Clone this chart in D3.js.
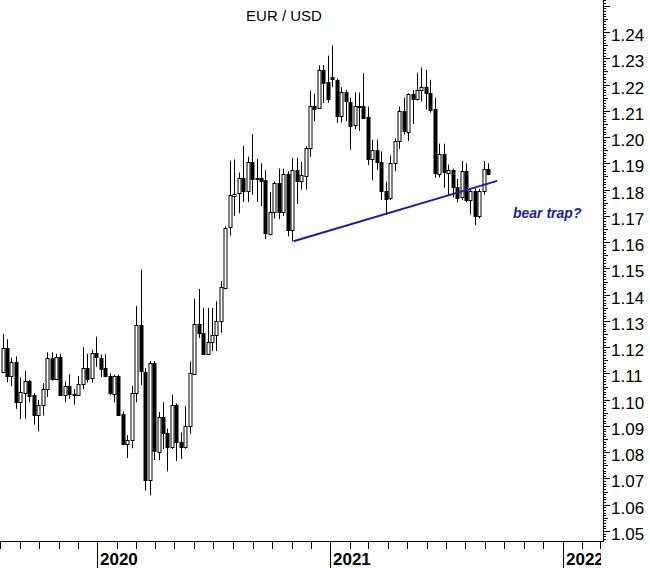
<!DOCTYPE html>
<html><head><meta charset="utf-8">
<script src="https://cdn.jsdelivr.net/npm/d3@7"></script>
<style>html,body{margin:0;padding:0;background:#fff;}svg{display:block;}</style>
</head><body>
<script>
// ---- data (weekly EUR/USD candles, week start dates) ----
const weeks = ["2019-08-05","2019-08-12","2019-08-19","2019-08-26","2019-09-02","2019-09-09","2019-09-16","2019-09-23","2019-09-30","2019-10-07","2019-10-14","2019-10-21","2019-10-28","2019-11-04","2019-11-11","2019-11-18","2019-11-25","2019-12-02","2019-12-09","2019-12-16","2019-12-23","2019-12-30",
"2020-01-06","2020-01-13","2020-01-20","2020-01-27","2020-02-03","2020-02-10","2020-02-17","2020-02-24","2020-03-02","2020-03-09","2020-03-16","2020-03-23","2020-03-30","2020-04-06","2020-04-13","2020-04-20","2020-04-27","2020-05-04","2020-05-11","2020-05-18","2020-05-25","2020-06-01","2020-06-08","2020-06-15","2020-06-22","2020-06-29","2020-07-06","2020-07-13","2020-07-20","2020-07-27","2020-08-03","2020-08-10","2020-08-17","2020-08-24","2020-08-31","2020-09-07","2020-09-14","2020-09-21","2020-09-28","2020-10-05","2020-10-12","2020-10-19","2020-10-26","2020-11-02","2020-11-09","2020-11-16","2020-11-23","2020-11-30","2020-12-07","2020-12-14","2020-12-21","2020-12-28",
"2021-01-04","2021-01-11","2021-01-18","2021-01-25","2021-02-01","2021-02-08","2021-02-15","2021-02-22","2021-03-01","2021-03-08","2021-03-15","2021-03-22","2021-03-29","2021-04-05","2021-04-12","2021-04-19","2021-04-26","2021-05-03","2021-05-10","2021-05-17","2021-05-24","2021-05-31","2021-06-07","2021-06-14","2021-06-21","2021-06-28","2021-07-05","2021-07-12","2021-07-19","2021-07-26","2021-08-02","2021-08-09","2021-08-16","2021-08-23","2021-08-30","2021-09-06"];
const opens = [1.1108,1.1198,1.1090,1.1143,1.0990,1.1028,1.1073,1.1017,1.0940,1.0979,1.1041,1.1160,1.1081,1.1164,1.1019,1.1052,1.1022,1.1017,1.1060,1.1122,1.1081,1.1177,
1.1160,1.1120,1.1090,1.1025,1.1092,1.0945,1.0830,1.0846,1.1026,1.1284,1.1107,1.0694,1.1139,1.0803,1.0935,1.0875,1.0820,1.0980,1.0840,1.0820,1.0900,1.1100,1.1290,1.1255,1.1175,1.1220,1.1245,1.1300,1.1428,1.1655,1.1778,1.1785,1.1843,1.1795,1.1905,1.1840,1.1845,1.1835,1.1632,1.1715,1.1825,1.1716,1.1860,1.1646,1.1875,1.1833,1.1855,1.1960,1.2120,1.2110,1.2255,1.2210,
1.2230,1.2217,1.2080,1.2170,1.2135,1.2045,1.2118,1.2120,1.2075,1.1915,1.1950,1.1905,1.1795,1.1765,1.1900,1.1985,1.2098,1.2022,1.2165,1.2145,1.2180,1.2190,1.2168,1.2105,1.1860,1.1935,1.1865,1.1875,1.1810,1.1770,1.1870,1.1760,1.1795,1.1698,1.1795,1.1880];
const highs = [1.1250,1.1230,1.1160,1.1165,1.1085,1.1110,1.1075,1.1025,1.0999,1.1063,1.1180,1.1180,1.1175,1.1175,1.1070,1.1097,1.1040,1.1090,1.1200,1.1175,1.1190,1.1240,
1.1172,1.1173,1.1100,1.1095,1.1095,1.0955,1.0865,1.1053,1.1356,1.1495,1.1120,1.1147,1.1147,1.0953,1.0990,1.0890,1.1019,1.0985,1.0875,1.0975,1.1145,1.1385,1.1422,1.1350,1.1350,1.1350,1.1375,1.1452,1.1660,1.1910,1.1915,1.1865,1.1966,1.1925,1.2011,1.1917,1.1900,1.1873,1.1790,1.1830,1.1880,1.1880,1.1870,1.1920,1.1920,1.1905,1.1965,1.2177,1.2165,1.2273,1.2274,1.2310,
1.2349,1.2223,1.2190,1.2180,1.2150,1.2170,1.2169,1.2243,1.2115,1.1990,1.1990,1.1945,1.1830,1.1930,1.1995,1.2116,1.2150,1.2167,1.2180,1.2245,1.2265,1.2255,1.2218,1.2150,1.1975,1.1975,1.1895,1.1880,1.1840,1.1909,1.1900,1.1805,1.1805,1.1802,1.1909,1.1900];
const lows = [1.1106,1.1066,1.1052,1.0965,1.0926,1.0927,1.0990,1.0905,1.0879,1.0940,1.1010,1.1072,1.1075,1.1015,1.0990,1.1003,1.0981,1.1015,1.1040,1.1065,1.1065,1.1125,
1.1085,1.1085,1.1018,1.0990,1.0940,1.0827,1.0778,1.0815,1.0990,1.1055,1.0654,1.0636,1.0770,1.0770,1.0812,1.0727,1.0812,1.0766,1.0775,1.0813,1.0870,1.1095,1.1235,1.1170,1.1170,1.1185,1.1185,1.1255,1.1420,1.1625,1.1700,1.1710,1.1753,1.1753,1.1780,1.1753,1.1737,1.1612,1.1630,1.1690,1.1687,1.1700,1.1622,1.1603,1.1745,1.1800,1.1800,1.1925,1.2060,1.2110,1.2130,1.2130,
1.2190,1.2054,1.2055,1.2060,1.1952,1.2030,1.2023,1.2070,1.1893,1.1835,1.1875,1.1760,1.1704,1.1760,1.1870,1.1955,1.2010,1.1985,1.2050,1.2140,1.2135,1.2105,1.2093,1.1845,1.1846,1.1807,1.1780,1.1770,1.1752,1.1760,1.1752,1.1705,1.1664,1.1690,1.1780,1.1855];
const closes = [1.1198,1.1090,1.1143,1.0990,1.1028,1.1073,1.1017,1.0940,1.0979,1.1041,1.1160,1.1081,1.1164,1.1019,1.1052,1.1022,1.1017,1.1060,1.1122,1.1081,1.1177,1.1160,
1.1120,1.1090,1.1025,1.1092,1.0945,1.0830,1.0846,1.1026,1.1284,1.1107,1.0694,1.1139,1.0803,1.0935,1.0875,1.0820,1.0980,1.0840,1.0820,1.0900,1.1100,1.1290,1.1255,1.1175,1.1220,1.1245,1.1300,1.1428,1.1655,1.1778,1.1785,1.1843,1.1795,1.1905,1.1840,1.1845,1.1835,1.1632,1.1715,1.1825,1.1716,1.1860,1.1646,1.1875,1.1833,1.1855,1.1960,1.2120,1.2110,1.2255,1.2206,1.2145,
1.2224,1.2080,1.2170,1.2135,1.2045,1.2118,1.2120,1.2075,1.1915,1.1950,1.1905,1.1795,1.1765,1.1900,1.1985,1.2098,1.2022,1.2165,1.2145,1.2180,1.2190,1.2168,1.2105,1.1860,1.1935,1.1865,1.1875,1.1810,1.1770,1.1870,1.1760,1.1795,1.1698,1.1795,1.1880,1.1862];

const yTicks = [1.05,1.06,1.07,1.08,1.09,1.10,1.11,1.12,1.13,1.14,1.15,1.16,1.17,1.18,1.19,1.20,1.21,1.22,1.23,1.24];
const trendDates = ["2020-11-04","2021-09-20"];
const trendValues = [1.1603, 1.1833];
const title = "EUR / USD";
const note = "bear trap?";

// ---- layout ----
const W = 650, H = 568;
const axisX = 603, axisY = 541;
const parse = d3.utcParse("%Y-%m-%d");

const x = d3.scaleUtc()
  .domain([parse("2020-03-09"), parse("2021-01-04")])
  .range([140.7, 332.3]);
const y = d3.scaleLinear().domain([1.05, 1.24]).range([531, 32]);

const svg = d3.select("body").append("svg").attr("width", W).attr("height", H)
  .style("font-family", "'Liberation Sans', Arial, sans-serif");

const defs = svg.append("defs");
defs.append("clipPath").attr("id","plot")
  .append("rect").attr("x",0).attr("y",0).attr("width",axisX).attr("height",H);
defs.append("clipPath").attr("id","xlab")
  .append("rect").attr("x",0).attr("y",0).attr("width",axisX-2).attr("height",H);

const candles = weeks.map((w,i)=>({d:parse(w),o:opens[i],h:highs[i],l:lows[i],c:closes[i]}));

const g = svg.append("g").attr("clip-path","url(#plot)");
const cg = g.selectAll("g.c").data(candles).join("g").attr("class","c");
const cx = d => Math.round(x(d.d)) + 0.5;
cg.append("line")
  .attr("x1", cx).attr("x2", cx)
  .attr("y1", d => y(d.h)).attr("y2", d => y(d.l))
  .attr("stroke", "#000").attr("stroke-width", 1);
cg.append("rect")
  .attr("x", d => cx(d) - 1.5)
  .attr("width", 3)
  .attr("y", d => Math.round(y(Math.max(d.o,d.c))) + 0.5)
  .attr("height", d => Math.max(1, Math.round(Math.abs(y(d.o)-y(d.c)))))
  .attr("fill", d => d.c >= d.o ? "#fff" : "#000")
  .attr("stroke", "#000").attr("stroke-width", 1);

// trend line
g.append("line")
  .attr("x1", x(parse(trendDates[0]))).attr("y1", y(trendValues[0]))
  .attr("x2", x(parse(trendDates[1]))).attr("y2", y(trendValues[1]))
  .attr("stroke", "#1f1f9e").attr("stroke-width", 2);

// x axis
const xg = svg.append("g").attr("clip-path","url(#plot)");
xg.append("line").attr("x1",0).attr("x2",axisX).attr("y1",axisY+0.5).attr("y2",axisY+0.5).attr("stroke","#000");
const months = d3.utcMonth.range(x.invert(0), x.invert(axisX+2));
xg.selectAll("line.mt").data(months).join("line").attr("class","mt")
  .attr("x1", d=>Math.round(x(d))+0.5).attr("x2", d=>Math.round(x(d))+0.5)
  .attr("y1", axisY).attr("y2", d => d.getUTCMonth()===0 ? H : axisY+8)
  .attr("stroke","#000");
svg.append("g").attr("clip-path","url(#xlab)")
  .selectAll("text.yr").data(months.filter(d=>d.getUTCMonth()===0)).join("text").attr("class","yr")
  .attr("x", d=>Math.round(x(d))+3).attr("y", 565)
  .attr("font-size", 17).attr("font-weight","bold")
  .text(d => d3.utcFormat("%Y")(d));

// y axis
svg.append("line").attr("x1",axisX+0.5).attr("x2",axisX+0.5).attr("y1",0).attr("y2",axisY+1).attr("stroke","#000");
const minor = d3.range(1047, 1253).map(v => v/1000);
svg.selectAll("line.yt").data(minor).join("line").attr("class","yt")
  .attr("x1", axisX).attr("x2", d => {
     const k = Math.round(d*1000);
     return axisX + (k%10===0 ? 7 : (k%5===0 ? 5 : 3));
  })
  .attr("y1", d=>Math.round(y(d))+0.5).attr("y2", d=>Math.round(y(d))+0.5)
  .attr("stroke","#000").attr("stroke-width",1);
svg.selectAll("text.yl").data(yTicks).join("text").attr("class","yl")
  .attr("x", 611).attr("y", d => y(d) + 9)
  .attr("font-size", 17)
  .text(d => d3.format(".2f")(d));

// title and annotation
svg.append("text").attr("x", 284).attr("y", 21).attr("text-anchor","middle")
  .attr("font-size", 15).text(title);
svg.append("text").attr("x", 513).attr("y", 218)
  .attr("font-size", 14).attr("font-weight","bold").attr("font-style","italic")
  .attr("fill","#1f1f9e").text(note);
</script>
</body></html>
